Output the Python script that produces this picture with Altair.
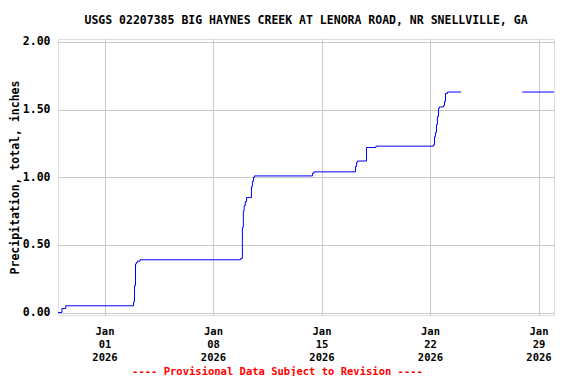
import altair as alt
import pandas as pd

# step-change times (local) and cumulative precipitation values, two segments (gap between)
seg1_times = [
    "2025-12-29T00:00", "2025-12-29T06:00", "2025-12-29T12:00",
    "2026-01-02T21:00", "2026-01-02T22:30", "2026-01-03T00:00", "2026-01-03T01:30",
    "2026-01-03T03:00", "2026-01-03T07:00",
    "2026-01-09T19:00", "2026-01-09T21:30", "2026-01-09T23:00", "2026-01-10T00:15",
    "2026-01-10T02:00", "2026-01-10T04:00", "2026-01-10T11:30", "2026-01-10T13:00",
    "2026-01-10T14:40", "2026-01-10T16:20",
    "2026-01-14T10:00", "2026-01-14T12:15",
    "2026-01-17T04:35", "2026-01-17T06:15", "2026-01-17T07:40", "2026-01-17T21:40",
    "2026-01-18T12:15",
    "2026-01-22T05:30", "2026-01-22T07:00", "2026-01-22T08:25", "2026-01-22T10:05",
    "2026-01-22T11:30", "2026-01-22T13:10", "2026-01-22T14:40", "2026-01-22T20:50",
    "2026-01-22T22:30", "2026-01-23T00:00", "2026-01-23T03:05", "2026-01-24T00:00",
]
seg1_values = [
    0.00, 0.03, 0.05,
    0.08, 0.20, 0.36, 0.37,
    0.38, 0.39,
    0.40, 0.63, 0.75, 0.79,
    0.82, 0.85, 0.93, 0.97,
    1.00, 1.01,
    1.03, 1.04,
    1.08, 1.11, 1.12, 1.22,
    1.23,
    1.24, 1.30, 1.33, 1.39,
    1.45, 1.51, 1.52, 1.53,
    1.56, 1.62, 1.63, 1.63,
]
seg2_times = ["2026-01-27T22:50", "2026-01-30T00:00"]
seg2_values = [1.63, 1.63]

y_ticks = [0.0, 0.5, 1.0, 1.5, 2.0]
x_tick_days = [1, 8, 15, 22, 29]

title_text = "USGS 02207385 BIG HAYNES CREEK AT LENORA ROAD, NR SNELLVILLE, GA"
y_title = "Precipitation, total, inches"
footer_text = "---- Provisional Data Subject to Revision ----"

df = pd.DataFrame({
    "time": seg1_times + seg2_times,
    "value": seg1_values + seg2_values,
    "seg": ["a"] * len(seg1_times) + ["b"] * len(seg2_times),
})
title_df = pd.DataFrame({"label": [title_text]})

FONT = "DejaVu Sans Mono"

x_enc = alt.X(
    "time:T",
    scale=alt.Scale(domain=[alt.DateTime(year=2025, month=12, date=29),
                            alt.DateTime(year=2026, month=1, date=30)], nice=False),
    axis=alt.Axis(
        values=[alt.DateTime(year=2026, month=1, date=d) for d in x_tick_days],
        labelExpr="[timeFormat(datum.value, '%b'), timeFormat(datum.value, '%d'), timeFormat(datum.value, '%Y')]",
        labelFont=FONT, labelFontSize=10.5, labelFontWeight="bold", labelColor="black",
        labelLineHeight=13, labelPadding=11, labelBaseline="top",
        ticks=False, domain=False, grid=True, gridColor="#c8c8c8", gridWidth=1,
        title=footer_text, titleFont=FONT, titleFontSize=10.5, titleFontWeight="bold",
        titleColor="red", titleX=219, titleY=59, titleAlign="center", titleBaseline="alphabetic",
    ),
)
y_enc = alt.Y(
    "value:Q",
    scale=alt.Scale(domain=[-0.018, 2.022], nice=False, zero=False),
    axis=alt.Axis(
        values=y_ticks, format=".2f",
        labelFont=FONT, labelFontSize=11.5, labelFontWeight="bold", labelColor="black",
        labelPadding=8, ticks=False, domain=False, grid=True, gridColor="#c8c8c8", gridWidth=1,
        title=y_title, titleFont=FONT, titleFontSize=11.5, titleFontWeight="bold",
        titleColor="black", titleX=-43, titleY=138, titleAngle=-90, titleAlign="center",
        titleBaseline="middle",
    ),
)

lines = alt.Chart(df).mark_line(interpolate="step-after", color="#0000ff", strokeWidth=1).encode(
    x=x_enc, y=y_enc, detail="seg:N"
)

title_mark = alt.Chart(title_df).mark_text(
    font=FONT, fontSize=11.5, fontWeight="bold", color="black", align="center", baseline="alphabetic"
).encode(text="label:N", x=alt.value(248), y=alt.value(-15))

chart = alt.layer(lines, title_mark).properties(
    width=496, height=276,
    autosize=alt.AutoSizeParams(type="none"),
    padding={"left": 50, "top": 31, "right": 14, "bottom": 61},
).configure_view(stroke="black", strokeWidth=1.5).configure(background="white")

chart.save("out.html", embed_options={"renderer": "svg", "actions": False})
